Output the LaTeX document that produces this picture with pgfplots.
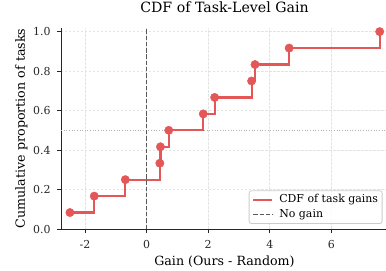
\documentclass[border=0pt]{standalone}
\usepackage{pgfplots}
\pgfplotsset{compat=1.18}
\usepackage{fontspec}
\setmainfont{DejaVu Serif}
\definecolor{cdfred}{RGB}{229,86,86}
\definecolor{spine}{RGB}{38,38,38}
\begin{document}
\begin{tikzpicture}
\begin{axis}[
  name=ax,
  scale only axis,
  width=327bp, height=201.3bp,
  xmin=-2.78, xmax=7.84,
  ymin=0, ymax=1.02,
  axis x line*=bottom, axis y line*=left,
  axis line style={spine, line width=1pt, -},
  tick align=outside,
  major tick length=3.5bp,
  tick style={spine, line width=0.9pt},
  xtick={-2,0,2,4,6},
  ytick={0,0.2,0.4,0.6,0.8,1.0},
  /pgf/number format/assume math mode=true,
  ticklabel style={font=\fontsize{11}{13}\selectfont, text=spine, inner sep=0pt, text height=8bp, text depth=0pt},
  xticklabel style={anchor=north, yshift=-7.5bp},
  yticklabel style={anchor=east, xshift=-6.8bp, /pgf/number format/.cd, fixed, fixed zerofill, precision=1},
  grid=major,
  major grid style={gray!22, dash pattern=on 2.5bp off 1.5bp, line width=0.6pt},
  title={CDF of Task-Level Gain},
  title style={font=\fontsize{14.2}{16}\selectfont, anchor=base, at={(0.5,1)}, yshift=9.2bp, inner sep=0pt},
  xlabel={Gain (Ours - Random)},
  ylabel={Cumulative proportion of tasks},
  label style={font=\fontsize{12.7}{14}\selectfont, inner sep=0pt},
  xlabel style={anchor=base, at={(0.5,0)}, yshift=-36bp},
  ylabel style={anchor=base, at={(0,0.5)}, rotate=0, yshift=36bp},
  legend style={at={(1,0)}, anchor=south east, xshift=-5.5bp, yshift=5bp,
    font=\fontsize{11}{13}\selectfont, draw=gray!40, line width=0.8pt, rounded corners=2.5pt,
    fill=white, fill opacity=0.85, text opacity=1, row sep=3pt,
    inner xsep=3pt, inner ysep=3pt,
    /tikz/column 1/.style={column sep=5bp},
    nodes={inner sep=1pt, text height=8bp, text depth=2bp}},
  legend cell align=left,
  legend image code/.code={\draw[#1] (0bp,0bp) -- (19bp,0bp);},
]
\addplot[gray!60, dash pattern=on 1bp off 1.65bp, line width=1pt, forget plot] coordinates {(-2.78,0.5) (7.84,0.5)};
\addplot[cdfred, line width=2.2pt, const plot, mark=*, mark size=4.2bp,
  mark options={solid, fill=cdfred, draw=cdfred, line width=0.4pt}] coordinates {
  (-2.49,0.0833) (-1.70,0.1667) (-0.69,0.25) (0.43,0.3333) (0.45,0.4167)
  (0.72,0.5) (1.84,0.5833) (2.21,0.6667) (3.41,0.75) (3.52,0.8333)
  (4.63,0.9167) (7.57,1.0)};
\addlegendentry{CDF of task gains}
\addplot[black!65, dash pattern=on 4.4bp off 1.9bp, line width=1.2pt] coordinates {(0,0) (0,1.02)};
\addlegendentry{No gain}
\end{axis}
\pgfresetboundingbox
\useasboundingbox ([xshift=-61bp, yshift=-42bp]ax.south west) rectangle ([xshift=-2bp, yshift=27.7bp]ax.north east);
\end{tikzpicture}
\end{document}
